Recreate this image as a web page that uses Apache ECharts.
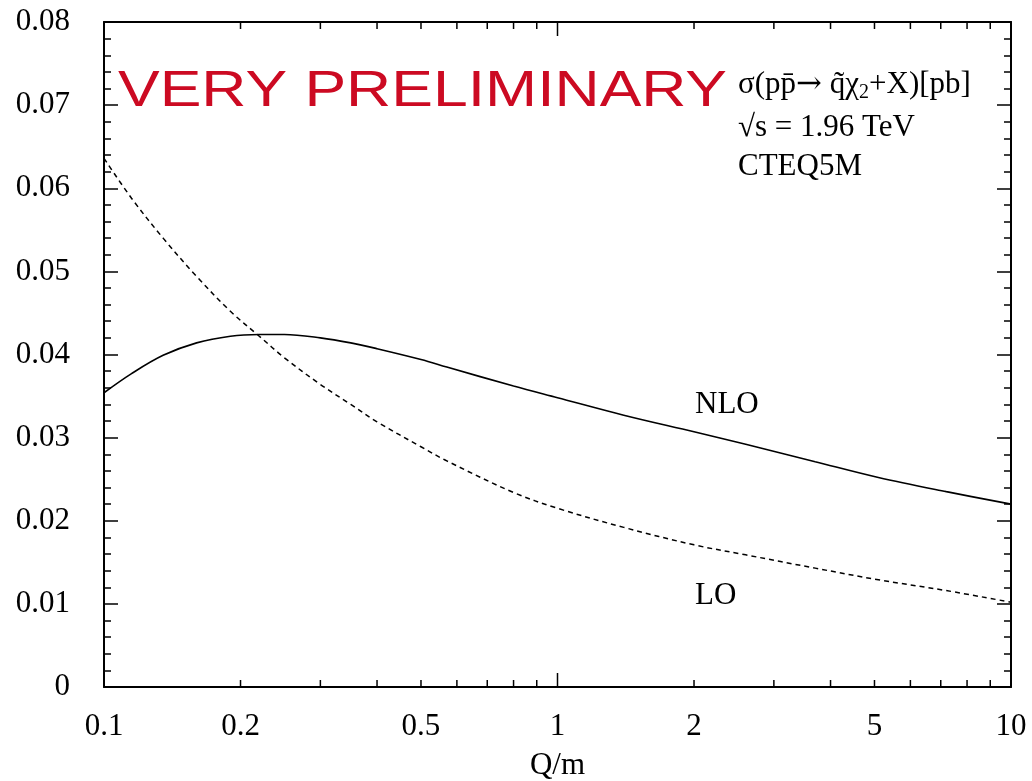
<!DOCTYPE html>
<html>
<head>
<meta charset="utf-8">
<title>Q/m dependence</title>
<script src="https://cdn.jsdelivr.net/npm/echarts@6/dist/echarts.min.js"></script>
<style>
  html, body { margin: 0; padding: 0; background: #fff; }
  #chart { width: 1032px; height: 781px; }
</style>
</head>
<body>
<div id="chart"></div>
<script>
// Scale ratio Q/m (log axis)
const qValues = [0.1, 0.115, 0.135, 0.16, 0.19, 0.22, 0.25, 0.3, 0.35, 0.4, 0.5, 0.57, 0.8, 1.0, 1.4, 2.0, 2.6, 3.7, 5.1, 7.2, 10];
// Cross sections [pb]
const nloValues = [0.0354, 0.0377, 0.0399, 0.0414, 0.0422, 0.0424, 0.0424, 0.0420, 0.0414, 0.0407, 0.0394, 0.0385, 0.0362, 0.0348, 0.0327, 0.0307, 0.0292, 0.0271, 0.0252, 0.0235, 0.0220];
const loValues  = [0.0636, 0.0588, 0.0540, 0.0494, 0.0452, 0.0422, 0.0396, 0.0364, 0.0340, 0.0319, 0.0289, 0.0272, 0.0234, 0.0215, 0.0192, 0.0171, 0.0159, 0.0143, 0.0129, 0.0116, 0.0102];

// Log-axis tick positions and the ones that carry a label
const xTickValues = [0.1, 0.2, 0.3, 0.4, 0.5, 0.6, 0.7, 0.8, 0.9, 1, 2, 3, 4, 5, 6, 7, 8, 9, 10];
const xLabelValues = [0.1, 0.2, 0.5, 1, 2, 5, 10];

const Y_MIN = 0, Y_MAX = 0.08;
const SERIF = '"Liberation Serif", "Times New Roman", serif';
const FS = 31;

const chart = echarts.init(document.getElementById('chart'), null, { renderer: 'canvas' });

function pairs(xs, ys) { return xs.map((x, i) => [x, ys[i]]); }

const yAxisBase = {
  type: 'value',
  min: Y_MIN,
  max: Y_MAX,
  interval: 0.01,
  splitLine: { show: false },
  axisLine: { show: true, onZero: false, lineStyle: { color: '#000', width: 2 } },
  axisTick: { show: true, inside: true, length: 14, lineStyle: { color: '#000', width: 1.5 } },
  minorTick: { show: true, splitNumber: 5, length: 7, lineStyle: { color: '#000', width: 1.5 } }
};

const option = {
  backgroundColor: '#fff',
  animation: false,
  grid: { left: 104, right: 21, top: 22, bottom: 94, containLabel: false, outerBoundsMode: 'none' },
  xAxis: [{
    type: 'log',
    logBase: 10,
    min: 0.1,
    max: 10,
    name: 'Q/m',
    nameLocation: 'middle',
    nameGap: 63,
    nameTextStyle: { fontFamily: SERIF, fontSize: FS, color: '#000' },
    splitLine: { show: false },
    axisLine: { show: true, onZero: false, lineStyle: { color: '#000', width: 2 } },
    axisTick: { show: false },
    axisLabel: { show: false },
    minorTick: { show: false }
  }, {
    type: 'log',
    logBase: 10,
    min: 0.1,
    max: 10,
    position: 'top',
    splitLine: { show: false },
    axisLine: { show: true, onZero: false, lineStyle: { color: '#000', width: 2 } },
    axisTick: { show: false },
    axisLabel: { show: false }
  }],
  yAxis: [Object.assign({}, yAxisBase, {
    position: 'left',
    axisLabel: {
      show: true,
      margin: 34,
      fontFamily: SERIF,
      fontSize: FS,
      color: '#000',
      padding: [11, 0, 0, 0],
      formatter: v => (v === 0 ? '0' : v.toFixed(2))
    }
  }), Object.assign({}, yAxisBase, {
    position: 'right',
    axisLabel: { show: false }
  })],
  series: [{
    name: 'NLO',
    type: 'line',
    data: pairs(qValues, nloValues),
    smooth: 0.35,
    showSymbol: false,
    lineStyle: { color: '#000', width: 1.6, type: 'solid' },
    z: 3
  }, {
    name: 'LO',
    type: 'line',
    data: pairs(qValues, loValues),
    smooth: 0.35,
    showSymbol: false,
    lineStyle: { color: '#000', width: 1.5, type: [5, 4] },
    z: 3
  }, {
    // log-axis ticks (bottom and top) with labels at 1-2-5 steps
    name: 'xticks',
    type: 'custom',
    silent: true,
    clip: false,
    data: xTickValues.map(v => [v, Y_MIN]),
    renderItem: function (params, api) {
      const v = api.value(0);
      const b = api.coord([v, Y_MIN]);
      const t = api.coord([v, Y_MAX]);
      const lg = Math.log10(v);
      const major = Math.abs(lg - Math.round(lg)) < 1e-9;
      const len = major ? 14 : 7;
      const children = [{
        type: 'line',
        shape: { x1: b[0], y1: b[1], x2: b[0], y2: b[1] - len },
        style: { stroke: '#000', lineWidth: 1.5 }
      }, {
        type: 'line',
        shape: { x1: t[0], y1: t[1], x2: t[0], y2: t[1] + len },
        style: { stroke: '#000', lineWidth: 1.5 }
      }];
      if (xLabelValues.some(l => Math.abs(l - v) < 1e-9)) {
        children.push({
          type: 'text',
          style: {
            text: String(v),
            x: b[0],
            y: b[1] + 24,
            font: FS + 'px ' + SERIF,
            fill: '#000',
            align: 'center',
            verticalAlign: 'top'
          }
        });
      }
      return { type: 'group', children: children };
    },
    z: 4
  }],
  graphic: [{
    type: 'text',
    x: 118,
    y: 92,
    scaleX: 1.25,
    style: {
      text: 'VERY PRELIMINARY',
      font: '50px "Liberation Sans", Arial, sans-serif',
      fill: '#cc0a22',
      align: 'left',
      verticalAlign: 'middle'
    },
    z: 10
  }, {
    type: 'text',
    x: 738,
    y: 85,
    style: {
      text: '{n|σ(pp\u0304}{a|→}{n| q\u0303χ}{s|2}{n|+X)[pb]}',
      align: 'left',
      verticalAlign: 'middle',
      rich: {
        n: { font: FS + 'px ' + SERIF, fill: '#000', lineHeight: 36, verticalAlign: 'middle' },
        a: { font: '31px "DejaVu Serif", serif', fill: '#000', lineHeight: 36, verticalAlign: 'middle' },
        s: { font: '20px ' + SERIF, fill: '#000', lineHeight: 20, verticalAlign: 'bottom' }
      }
    },
    z: 10
  }, {
    type: 'text',
    x: 738,
    y: 128,
    style: { text: '√s = 1.96 TeV', font: FS + 'px ' + SERIF, fill: '#000', align: 'left', verticalAlign: 'middle' },
    z: 10
  }, {
    type: 'text',
    x: 738,
    y: 167,
    style: { text: 'CTEQ5M', font: FS + 'px ' + SERIF, fill: '#000', align: 'left', verticalAlign: 'middle' },
    z: 10
  }, {
    type: 'text',
    x: 695,
    y: 405,
    style: { text: 'NLO', font: FS + 'px ' + SERIF, fill: '#000', align: 'left', verticalAlign: 'middle' },
    z: 10
  }, {
    type: 'text',
    x: 695,
    y: 596,
    style: { text: 'LO', font: FS + 'px ' + SERIF, fill: '#000', align: 'left', verticalAlign: 'middle' },
    z: 10
  }]
};

chart.setOption(option);
</script>
</body>
</html>
